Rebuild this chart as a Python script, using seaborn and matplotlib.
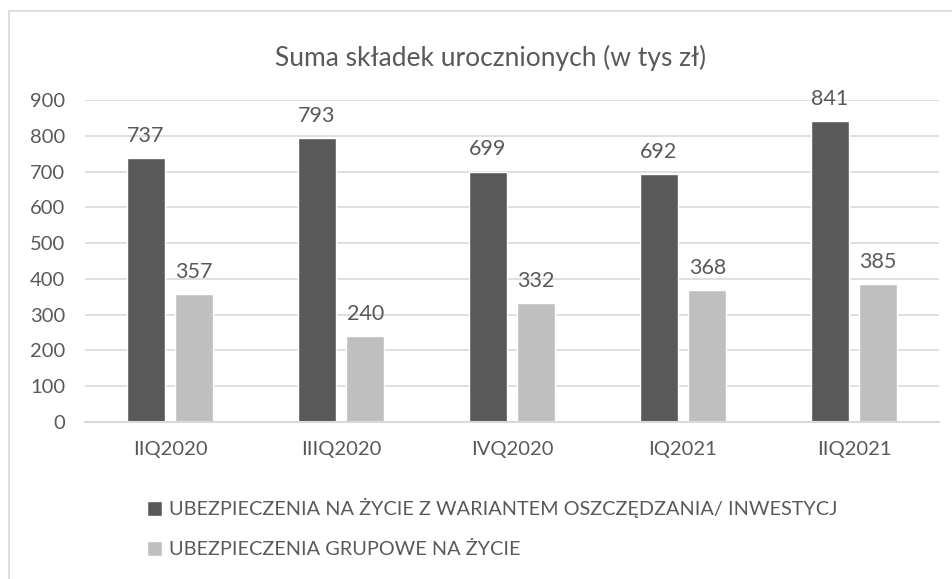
import matplotlib
matplotlib.use("Agg")
import matplotlib.pyplot as plt
import seaborn as sns
import pandas as pd
from matplotlib.patches import Rectangle

categories = ["IIQ2020", "IIIQ2020", "IVQ2020", "IQ2021", "IIQ2021"]
series_names = ["UBEZPIECZENIA NA ŻYCIE Z WARIANTEM OSZCZĘDZANIA/ INWESTYCJ",
                "UBEZPIECZENIA GRUPOWE NA ŻYCIE"]
savings_values = [737, 793, 699, 692, 841]
group_values = [357, 240, 332, 368, 385]
y_ticks = [0, 100, 200, 300, 400, 500, 600, 700, 800, 900]
title = "Suma składek urocznionych (w tys zł)"

df = pd.DataFrame({
    "kw": categories * 2,
    "val": savings_values + group_values,
    "ser": [series_names[0]] * len(categories) + [series_names[1]] * len(categories),
})

sns.set_theme(style="white")
plt.rcParams["font.family"] = ["Lato", "DejaVu Sans"]
TXT = "#595959"

fig = plt.figure(figsize=(9.52, 5.79), dpi=100)
ax = fig.add_axes([0.0888, 0.2712, 0.8980, 0.5561])

sns.barplot(data=df, x="kw", y="val", hue="ser", order=categories,
            hue_order=series_names, palette=["#595959", "#bfbfbf"],
            width=0.568, gap=0.211, ax=ax, saturation=1, errorbar=None)

for c in ax.containers:
    ax.bar_label(c, padding=9, fontsize=15.5, color=TXT)

ax.set_ylim(0, 900)
ax.set_xlim(-0.5, len(categories) - 0.5)
ax.set_yticks(y_ticks)
ax.yaxis.grid(True, color="#d9d9d9", linewidth=1.2)
ax.set_axisbelow(True)
for s in ["top", "right", "left"]:
    ax.spines[s].set_visible(False)
ax.spines["bottom"].set_color("#d9d9d9")
ax.spines["bottom"].set_linewidth(1.5)
ax.tick_params(axis="y", length=0, pad=14, labelsize=14.5, labelcolor=TXT)
ax.tick_params(axis="x", length=0, pad=14, labelsize=14.5, labelcolor=TXT)
ax.set_xlabel("")
ax.set_ylabel("")

fig.text(0.515, 0.9, title, ha="center", va="center", fontsize=19, color=TXT)

sns.move_legend(ax, "upper left", bbox_to_anchor=(147 / 952, 1 - 498 / 579),
                bbox_transform=fig.transFigure, ncol=1, frameon=False, title=None,
                fontsize=14.3, handlelength=0.75, handleheight=0.75,
                handletextpad=0.35, labelspacing=1.15, borderaxespad=0, borderpad=0)
for t in ax.get_legend().get_texts():
    t.set_color(TXT)

fig.patches.append(Rectangle((9 / 952, -0.05), 1.2, 1 - 11 / 579 + 0.05,
                             transform=fig.transFigure, fill=False,
                             edgecolor="#d9d9d9", linewidth=1.2))

fig.savefig("out.png", dpi=100, facecolor="white")
